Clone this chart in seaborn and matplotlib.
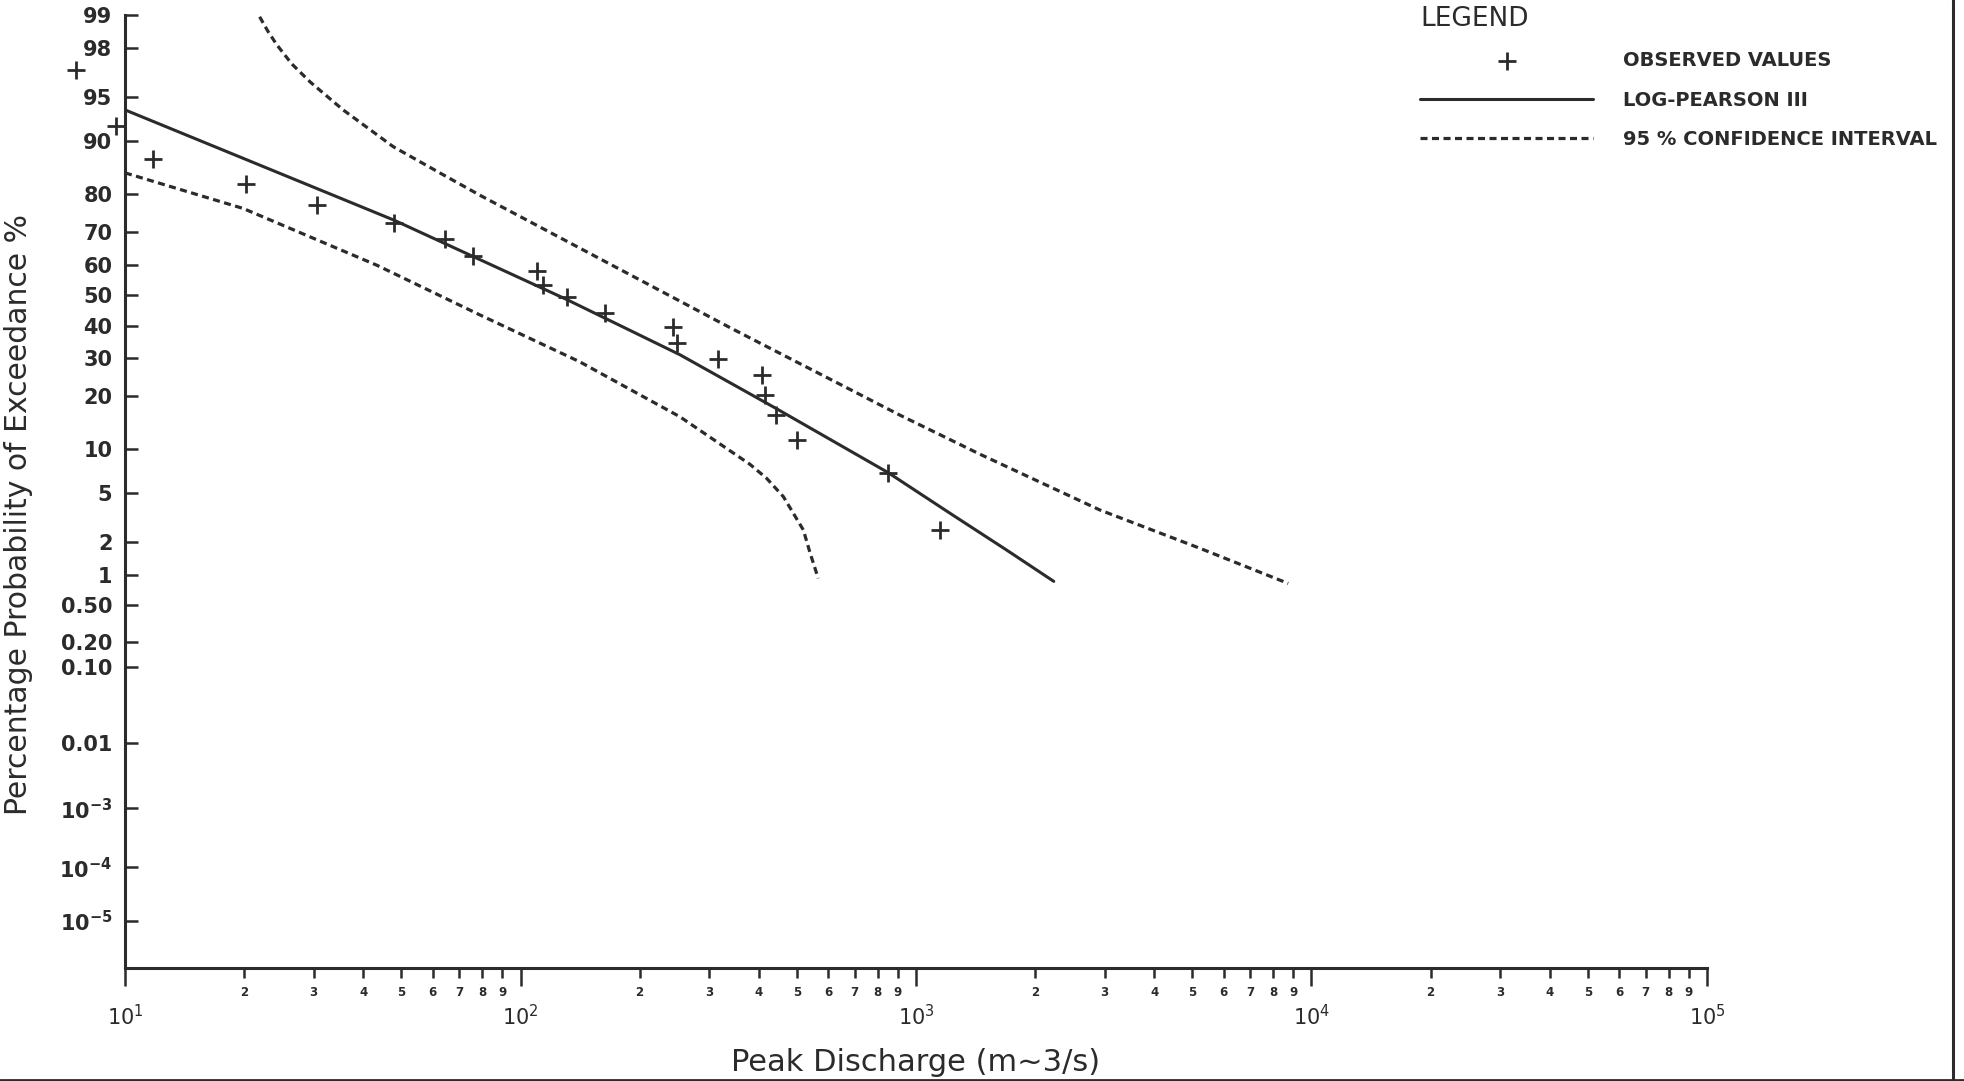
import math
import numpy as np
import pandas as pd
import matplotlib
matplotlib.use("Agg")
import matplotlib.pyplot as plt
import seaborn as sns
from matplotlib.lines import Line2D

# Observed values: peak discharge (m^3/s) and percentage probability of exceedance
obs_q = [7.5, 9.5, 11.8, 20.2, 30.6, 47.9, 64.4, 76.0, 110, 114, 131,
         164, 243, 248, 315, 407, 415, 443, 499, 851, 1151]
obs_p = [96.9, 92.0, 87.0, 82.1, 77.3, 72.6, 67.8, 62.7, 58.0, 53.3, 49.4,
         44.2, 39.6, 34.4, 29.9, 25.3, 20.3, 15.9, 11.4, 6.93, 2.55]

# Log-Pearson III fitted curve
lp3_q = [10, 47.9, 131, 253, 443, 851, 1218, 1694, 2230]
lp3_p = [93.8, 73.3, 48.5, 31.0, 17.3, 7.0, 3.5, 1.71, 0.87]

# 95 % confidence interval, upper and lower limits
ci_up_q = [21.9, 23.0, 24.2, 26.4, 29.4, 35.6, 47.7, 63.8, 79.5, 339, 912, 1452, 2917, 5224, 8730]
ci_up_p = [98.96, 98.57, 98.12, 97.26, 96.16, 93.8, 89.1, 84.1, 79.5, 39.3, 15.9, 9.3, 3.71, 1.77, 0.83]
ci_lo_q = [10, 19.9, 43.3, 79.1, 141, 253, 380, 419, 462, 519, 540, 566]
ci_lo_p = [84.5, 76.4, 59.8, 43.4, 29.0, 15.6, 8.0, 6.4, 4.7, 2.55, 1.6, 0.93]

# axis ticks
y_ticks = [99, 98, 95, 90, 80, 70, 60, 50, 40, 30, 20, 10, 5, 2, 1,
           0.5, 0.2, 0.1, 0.01, 1e-3, 1e-4, 1e-5]
y_labels = ["99", "98", "95", "90", "80", "70", "60", "50", "40", "30", "20", "10",
            "5", "2", "1", "0.50", "0.20", "0.10", "0.01",
            r"$\mathbf{10^{-3}}$", r"$\mathbf{10^{-4}}$", r"$\mathbf{10^{-5}}$"]
x_major = [10, 100, 1000, 10000, 100000]
x_major_labels = [r"$10^{1}$", r"$10^{2}$", r"$10^{3}$", r"$10^{4}$", r"$10^{5}$"]
x_minor = [m * 10 ** e for e in range(1, 5) for m in range(2, 10)]
x_minor_labels = [str(m) for e in range(1, 5) for m in range(2, 10)]

INK = "#2b2b2b"


# normal probability scale (Acklam inverse normal + erfc)
def norm_ppf(p):
    p = np.clip(np.asarray(p, dtype=float), 1e-300, 1 - 1e-16)
    a = [-3.969683028665376e+01, 2.209460984245205e+02, -2.759285104469687e+02,
         1.383577518672690e+02, -3.066479806614716e+01, 2.506628277459239e+00]
    b = [-5.447609879822406e+01, 1.615858368580409e+02, -1.556989798598866e+02,
         6.680131188771972e+01, -1.328068155288572e+01]
    c = [-7.784894002430293e-03, -3.223964580411365e-01, -2.400758277161838e+00,
         -2.549732539343734e+00, 4.374664141464968e+00, 2.938163982698783e+00]
    d = [7.784695709041462e-03, 3.224671290700398e-01, 2.445134137142996e+00,
         3.754408661907416e+00]
    plow = 0.02425
    out = np.empty_like(p)
    lo = p < plow
    hi = p > 1 - plow
    mid = ~(lo | hi)
    q = np.sqrt(-2 * np.log(p[lo]))
    out[lo] = (((((c[0]*q + c[1])*q + c[2])*q + c[3])*q + c[4])*q + c[5]) / \
              ((((d[0]*q + d[1])*q + d[2])*q + d[3])*q + 1)
    q = p[mid] - 0.5
    r = q * q
    out[mid] = (((((a[0]*r + a[1])*r + a[2])*r + a[3])*r + a[4])*r + a[5]) * q / \
               (((((b[0]*r + b[1])*r + b[2])*r + b[3])*r + b[4])*r + 1)
    q = np.sqrt(-2 * np.log(1 - p[hi]))
    out[hi] = -(((((c[0]*q + c[1])*q + c[2])*q + c[3])*q + c[4])*q + c[5]) / \
               ((((d[0]*q + d[1])*q + d[2])*q + d[3])*q + 1)
    return out


_erfc = np.vectorize(math.erfc)


def forward(pct):
    return norm_ppf(np.asarray(pct, dtype=float) / 100.0)


def inverse(z):
    return 50.0 * _erfc(-np.asarray(z, dtype=float) / math.sqrt(2))


sns.set_style("ticks")
plt.rcParams["font.family"] = ["DejaVu Sans"]
plt.rcParams["text.color"] = INK
plt.rcParams["axes.labelcolor"] = INK

fig = plt.figure(figsize=(19.65, 10.81), dpi=100)
ax = fig.add_axes([125 / 1965, 1 - 968 / 1081, (1707 - 125) / 1965, (968 - 15) / 1081])

ax.set_xscale("log")
ax.set_yscale("function", functions=(forward, inverse))
ax.set_xlim(10, 1e5)
ax.set_ylim(inverse(-5.59), 99)

dash = (0, (2.2, 1.4))
sns.lineplot(x=ci_up_q, y=ci_up_p, estimator=None, sort=False, color=INK, lw=2.3,
             linestyle=dash, ax=ax, label="_nolegend_")
sns.lineplot(x=ci_lo_q, y=ci_lo_p, estimator=None, sort=False, color=INK, lw=2.3,
             linestyle=dash, ax=ax, label="95 % CONFIDENCE INTERVAL")
sns.lineplot(x=lp3_q, y=lp3_p, estimator=None, sort=False, color=INK, lw=2.2,
             ax=ax, label="LOG-PEARSON III")
sns.scatterplot(x=obs_q, y=obs_p, marker="+", s=150, linewidth=2.0, color=INK,
                ax=ax, label="OBSERVED VALUES", clip_on=False, zorder=5)

# axes styling
for side in ["top", "right"]:
    ax.spines[side].set_visible(False)
for side in ["left", "bottom"]:
    ax.spines[side].set_linewidth(2.2)
    ax.spines[side].set_color(INK)

ax.set_yticks(y_ticks, labels=y_labels, fontweight="bold", fontsize=15)
ax.yaxis.set_minor_locator(matplotlib.ticker.NullLocator())
ax.tick_params(axis="y", direction="in", length=9.5, width=1.8, pad=9, colors=INK)

ax.set_xticks(x_major, labels=x_major_labels, fontsize=15)
ax.set_xticks(x_minor, labels=x_minor_labels, minor=True, fontsize=8.5, fontweight="bold")
ax.tick_params(axis="x", which="major", direction="out", length=13, width=1.8, pad=13, colors=INK)
ax.tick_params(axis="x", which="minor", direction="out", length=7, width=1.8, pad=6, colors=INK)

ax.set_xlabel("Peak Discharge (m~3/s)", fontsize=22)
ax.set_ylabel("Percentage Probability of Exceedance %", fontsize=21.5)
ax.xaxis.set_label_coords(0.5, -0.084)
ax.yaxis.set_label_coords(-0.058, 0.476)

# legend
pts = ax.collections[0]
handles = [pts, ax.lines[2], ax.lines[1]]
labels = ["OBSERVED VALUES", "LOG-PEARSON III", "95 % CONFIDENCE INTERVAL"]
leg = ax.legend(handles, labels, title="LEGEND", loc="upper left",
                bbox_to_anchor=(1420 / 1965, 1 - 6 / 1081), bbox_transform=fig.transFigure,
                frameon=False, handlelength=8.9, handletextpad=1.55, labelspacing=1.05,
                borderpad=0, borderaxespad=0, alignment="left", title_fontsize=19,
                prop={"weight": "bold", "size": 14})
leg._legend_box.sep = 14
for t in leg.get_texts():
    t.set_color(INK)
leg.get_title().set_color(INK)

# scanned page frame
fig.add_artist(Line2D([1953 / 1965] * 2, [0, 1], transform=fig.transFigure, color=INK, lw=2.2))
fig.add_artist(Line2D([0, 1], [1.5 / 1081] * 2, transform=fig.transFigure, color=INK, lw=2.0))

fig.savefig("out.png", dpi=100, facecolor="white")
